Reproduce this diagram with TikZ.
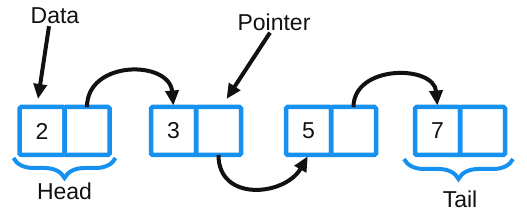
\documentclass[tikz,border=0pt]{standalone}
\usepackage{fontspec}
\setmainfont{Liberation Sans}
\usetikzlibrary{arrows.meta,positioning,calc,decorations.pathreplacing}
\definecolor{cellblue}{HTML}{1791F0}
\definecolor{ink}{HTML}{111111}

\begin{document}
\begin{tikzpicture}[x=1pt,y=1pt,font=\fontsize{23}{27}\selectfont,>={Triangle[length=15pt,width=13pt]},
  cell/.style={draw=cellblue,line width=4.5pt,rounded corners=1.5pt,minimum width=45pt,minimum height=48pt,inner sep=0pt,outer sep=0pt,text=ink},
  tag/.style={inner sep=2pt,text=ink},
  link/.style={->,line width=4pt,draw=ink},
  curly/.style={draw=cellblue,line width=4pt,decorate,decoration={brace,mirror,amplitude=20pt}}]
  \useasboundingbox (0,0) rectangle (527,222);
  \node[cell] (d1) at (42,91) {2};
  \node[cell,right=0pt of d1] (p1) {};
  \node[cell,right=41.5pt of p1] (d2) {3};
  \node[cell,right=0pt of d2] (p2) {};
  \node[cell,right=45pt of p2] (d3) {5};
  \node[cell,right=0pt of d3] (p3) {};
  \node[cell,right=39pt of p3] (d4) {7};
  \node[cell,right=0pt of d4] (p4) {};
  \draw[link,shorten >=1.5pt] (p1.north) to[out=90,in=95,looseness=1.4] (d2.north);
  \draw[link,shorten >=1.5pt] (p2.south) to[out=-90,in=-120,looseness=1.35] (d3.south);
  \draw[link,shorten >=1.5pt] (p3.north) to[out=90,in=95,looseness=1.3] (d4.north);
  \node[tag] (data) at (55,206) {Data};
  \node[tag] (pointer) at (274,200) {Pointer};
  \draw[link] ([xshift=-6pt]data.south) -- ([xshift=-4pt,yshift=8pt]d1.north);
  \draw[link] ([xshift=-4pt]pointer.south) -- ([xshift=8pt,yshift=8pt]p2.north);
  \draw[curly] ([xshift=-6pt,yshift=-3pt]d1.south west) -- ([xshift=6pt,yshift=-3pt]p1.south east);
  \draw[curly] ([xshift=-11pt,yshift=-4pt]d4.south west) -- ([xshift=8pt,yshift=-4pt]p4.south east);
  \node[tag] (head) at ([yshift=-36pt]p1.south west) {Head};
  \node[tag] (tail) at ([yshift=-44pt]p4.south west) {Tail};
\end{tikzpicture}
\end{document}
